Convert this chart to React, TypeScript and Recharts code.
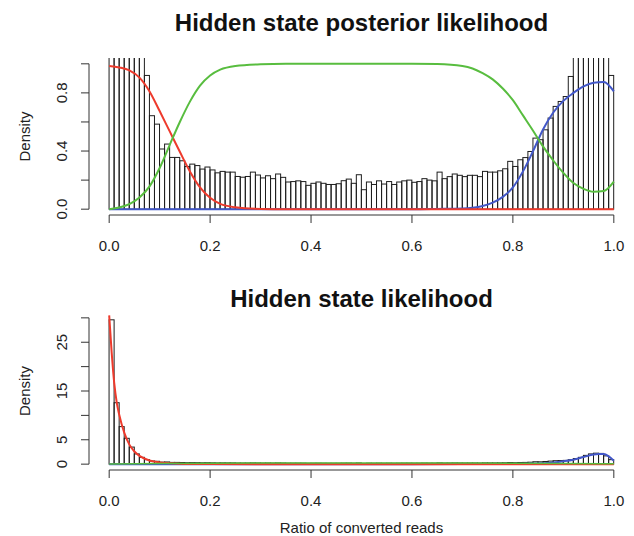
import React from 'react';
import { ComposedChart, Bar, Line, XAxis, YAxis, ReferenceLine, Label } from 'recharts';

// histogram of the ratio of converted reads (density, 100 bins of 0.01)
const binDensity = [
  29.6, 12.6, 7.7, 5.3, 3.5, 2.1, 1.4, 0.92, 0.643, 0.585,
  0.414, 0.448, 0.356, 0.356, 0.333, 0.294, 0.31, 0.3, 0.276, 0.29,
  0.27, 0.25, 0.26, 0.255, 0.255, 0.225, 0.22, 0.225, 0.255, 0.235,
  0.215, 0.23, 0.21, 0.242, 0.219, 0.187, 0.19, 0.195, 0.19, 0.164,
  0.178, 0.187, 0.178, 0.17, 0.17, 0.175, 0.196, 0.207, 0.178, 0.237,
  0.134, 0.187, 0.17, 0.195, 0.173, 0.19, 0.17, 0.187, 0.195, 0.2,
  0.185, 0.19, 0.21, 0.2, 0.195, 0.255, 0.21, 0.224, 0.242, 0.233,
  0.224, 0.233, 0.233, 0.224, 0.26, 0.255, 0.255, 0.264, 0.278, 0.329,
  0.294, 0.34, 0.355, 0.397, 0.489, 0.478, 0.546, 0.627, 0.707, 0.741,
  0.775, 0.913, 1.15, 1.4, 1.8, 2.1, 2.25, 2.2, 1.7, 0.92,
];

// posterior probability of each hidden state (top panel)
const postX = [0, 0.02, 0.04, 0.06, 0.08, 0.1, 0.12, 0.14, 0.16, 0.18, 0.2, 0.22, 0.25, 0.3, 0.35, 0.4, 0.5, 0.6, 0.65, 0.7, 0.72, 0.74, 0.76, 0.78, 0.8, 0.82, 0.84, 0.86, 0.88, 0.9, 0.92, 0.94, 0.96, 0.98, 1];
const postRed = [0.985, 0.975, 0.955, 0.905, 0.81, 0.675, 0.535, 0.395, 0.26, 0.15, 0.078, 0.036, 0.013, 0.002, 0, 0, 0, 0, 0, 0, 0, 0, 0, 0, 0, 0, 0, 0, 0, 0, 0, 0, 0, 0, 0];
const postGreen = [0, 0.012, 0.035, 0.08, 0.157, 0.283, 0.443, 0.6, 0.74, 0.85, 0.92, 0.96, 0.985, 0.997, 1, 1, 1, 1, 0.998, 0.985, 0.968, 0.936, 0.893, 0.83, 0.75, 0.645, 0.54, 0.43, 0.335, 0.25, 0.18, 0.14, 0.12, 0.125, 0.19];
const postBlue = [0, 0, 0, 0, 0, 0, 0, 0, 0, 0, 0, 0, 0, 0, 0, 0, 0, 0, 0.002, 0.005, 0.01, 0.022, 0.045, 0.085, 0.15, 0.26, 0.4, 0.55, 0.665, 0.745, 0.8, 0.845, 0.87, 0.875, 0.81];

// emission densities of each state (bottom panel)
const likRedX = [0, 0.005, 0.01, 0.015, 0.02, 0.03, 0.04, 0.05, 0.06, 0.08, 0.1, 0.12, 0.15, 0.2, 0.4, 0.6, 0.8, 1];
const likRed = [30.5, 22.8, 16.6, 12.6, 10.1, 6.4, 4.0, 2.6, 1.7, 0.75, 0.35, 0.2, 0.05, 0.01, 0, 0, 0, 0];
const likGreenX = [0, 0.1, 0.2, 0.3, 0.4, 0.5, 0.6, 0.7, 0.8, 0.9, 1];
const likGreen = [0.05, 0.15, 0.2, 0.22, 0.22, 0.22, 0.22, 0.22, 0.2, 0.15, 0.08];
const likBlueX = [0, 0.2, 0.4, 0.6, 0.7, 0.8, 0.84, 0.86, 0.88, 0.9, 0.92, 0.94, 0.96, 0.97, 0.98, 0.99, 1];
const likBlue = [0, 0, 0, 0, 0.01, 0.05, 0.12, 0.17, 0.35, 0.6, 0.92, 1.45, 1.98, 2.08, 2.08, 1.6, 0.7];

const xTicks = [0, 0.2, 0.4, 0.6, 0.8, 1];
const topYTicks = [0, 0.2, 0.4, 0.6, 0.8, 1];
const topYLabels = [0, 0.4, 0.8];
const botYTicks = [0, 5, 10, 15, 20, 25, 30];
const botYLabels = [0, 5, 15, 25];

const FONT = '"Liberation Sans", Arial, Helvetica, sans-serif';
const INK = '#333';
const RED = '#ee3a2c';
const GREEN = '#58bd3f';
const BLUE = '#4257c8';

const W = 634;
const H = 268;
const AXIS_W = 89;
const BIN_PX = (W - AXIS_W) / 108; // one 0.01 bin in a 1.08-wide domain

const bins = binDensity.map((d, i) => ({ x: (i + 0.5) / 100, density: d }));
const toSeries = (xs: number[], ys: number[]) => xs.map((x, i) => ({ x, v: ys[i] }));

// R-style histogram cell: open outline spanning the whole bin
const HistCell = (p: any) => {
  if (p.height == null || p.x == null) return <g />;
  const cx = p.x + p.width / 2;
  const y = Math.min(p.y, p.y + p.height);
  return (
    <rect x={cx - BIN_PX / 2} y={y} width={BIN_PX} height={Math.abs(p.height)} fill="none" stroke="#1e1e1e" strokeWidth={1} />
  );
};

const XTick = ({ x, y, payload }: any) => (
  <text x={x} y={y + 25.5} textAnchor="middle" fontSize={15} fill="#222" fontFamily={FONT}>
    {payload.value.toFixed(1)}
  </text>
);

const makeYTick = (shown: number[], fmt: (v: number) => string) => ({ x, y, payload }: any) =>
  shown.includes(payload.value) ? (
    <text
      transform={`translate(${x - 12.5},${y}) rotate(-90)`}
      textAnchor="middle"
      fontSize={15}
      fill="#222"
      fontFamily={FONT}
    >
      {fmt(payload.value)}
    </text>
  ) : (
    <g />
  );

const densityLabel = ({ viewBox }: any) => (
  <text
    transform={`translate(30,${viewBox.y + viewBox.height / 2}) rotate(-90)`}
    textAnchor="middle"
    fontSize={15}
    fill="#222"
    fontFamily={FONT}
  >
    Density
  </text>
);

const xLabel = ({ viewBox }: any) => (
  <text x={viewBox.x + viewBox.width / 2} y={viewBox.y + 63} textAnchor="middle" fontSize={15} fill="#222" fontFamily={FONT}>
    Ratio of converted reads
  </text>
);

const titleStyle = (top: number): React.CSSProperties => ({
  position: 'absolute',
  left: AXIS_W,
  width: W - AXIS_W,
  top,
  textAlign: 'center',
  fontFamily: FONT,
  fontWeight: 'bold',
  fontSize: 24,
  lineHeight: '28px',
  color: '#111',
});

function Panel({
  top,
  marginTop,
  marginBottom,
  yDomain,
  yTicks,
  yTick,
  curves,
  withXLabel,
}: {
  top: number;
  marginTop: number;
  marginBottom: number;
  yDomain: [number, number];
  yTicks: number[];
  yTick: any;
  curves: { data: { x: number; v: number }[]; color: string; width: number }[];
  withXLabel?: boolean;
}) {
  return (
    <div style={{ position: 'absolute', left: 0, top }}>
      <ComposedChart width={W} height={H} data={bins} margin={{ top: marginTop, right: 0, bottom: marginBottom, left: 0 }}>
        <XAxis
          dataKey="x"
          type="number"
          domain={[-0.04, 1.04]}
          allowDataOverflow
          ticks={xTicks}
          interval={0}
          height={30}
          axisLine={false}
          tickSize={8}
          tickMargin={2}
          tickLine={{ stroke: INK }}
          tick={(p: any) => <XTick {...p} />}
        >
          {withXLabel && <Label content={xLabel} />}
        </XAxis>
        <YAxis
          type="number"
          domain={yDomain}
          allowDataOverflow
          ticks={yTicks}
          interval={0}
          width={AXIS_W}
          axisLine={false}
          tickSize={8}
          tickMargin={2}
          tickLine={{ stroke: INK }}
          tick={yTick}
        >
          <Label content={densityLabel} />
        </YAxis>
        <Bar dataKey="density" barSize={BIN_PX} shape={HistCell} isAnimationActive={false} />
        {curves.map((c, i) => (
          <Line
            key={i}
            data={c.data}
            dataKey="v"
            type="monotone"
            stroke={c.color}
            strokeWidth={c.width}
            dot={false}
            activeDot={false}
            isAnimationActive={false}
          />
        ))}
        <ReferenceLine segment={[{ x: 0, y: yDomain[0] }, { x: 1, y: yDomain[0] }]} stroke={INK} ifOverflow="visible" />
        <ReferenceLine
          segment={[{ x: -0.04, y: yTicks[0] }, { x: -0.04, y: yTicks[yTicks.length - 1] }]}
          stroke={INK}
          ifOverflow="visible"
        />
      </ComposedChart>
    </div>
  );
}

export default function App() {
  return (
    <div style={{ position: 'absolute', left: 0, top: 0, width: W, height: 536, overflow: 'hidden', background: '#fff' }}>
      <Panel
        top={0}
        marginTop={58}
        marginBottom={23}
        yDomain={[-0.04, 1.04]}
        yTicks={topYTicks}
        yTick={makeYTick(topYLabels, (v) => v.toFixed(1))}
        curves={[
          { data: toSeries(postX, postBlue), color: BLUE, width: 2 },
          { data: toSeries(postX, postRed), color: RED, width: 2 },
          { data: toSeries(postX, postGreen), color: GREEN, width: 2 },
        ]}
      />
      <Panel
        top={H}
        marginTop={44}
        marginBottom={36}
        yDomain={[-1.2, 31.2]}
        yTicks={botYTicks}
        yTick={makeYTick(botYLabels, (v) => String(v))}
        curves={[
          { data: toSeries(likBlueX, likBlue), color: BLUE, width: 2 },
          { data: toSeries(likRedX, likRed), color: RED, width: 2 },
          { data: toSeries(likGreenX, likGreen), color: GREEN, width: 1.5 },
        ]}
        withXLabel
      />
      <div style={titleStyle(9.4)}>Hidden state posterior likelihood</div>
      <div style={titleStyle(285.2)}>Hidden state likelihood</div>
    </div>
  );
}
